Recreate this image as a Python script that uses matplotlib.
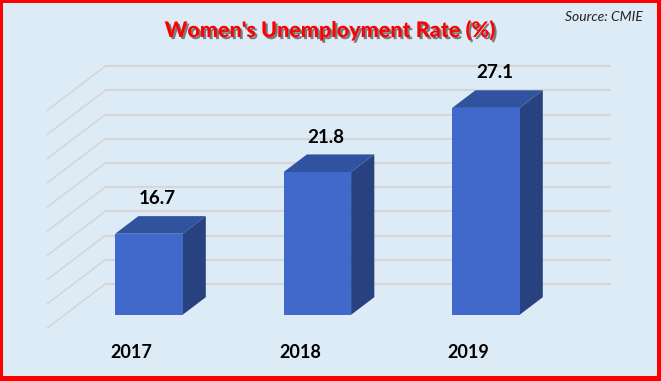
import matplotlib
matplotlib.use('Agg')
import matplotlib.pyplot as plt
import matplotlib.patches as mpatches
import matplotlib.patheffects as pe

# data
years = ['2017', '2018', '2019']
rates = [16.7, 21.8, 27.1]
grid_vals = list(range(10, 30, 2))   # 10 .. 28
ymin = 10

# colours
bg = '#DDEBF7'
c_front = '#4169CC'
c_top = '#2F539E'
c_side = '#27427F'
c_grid = '#D6D6D6'

# oblique depth (full depth of the chart floor, in data units)
DX = 58 / 168.5
DY = 44 / 12.1
d0, d1 = 0.3, 0.7      # bar sits between these depth fractions
bw = 0.4               # bar width in category units

fig = plt.figure(figsize=(6.61, 3.81), dpi=100, facecolor='red')
fig.patches.append(mpatches.Rectangle((3 / 661, 5 / 381), 654 / 661, 373 / 381,
                                      transform=fig.transFigure, facecolor=bg,
                                      edgecolor='none', zorder=-1))

ax = fig.add_axes([0, 0, 1, 1])
ax.set_facecolor('none')
ax.set_xlim(-131.5 / 168.5, (661 - 131.5) / 168.5)
ax.set_ylim(ymin - 53 / 12.1, ymin + 328 / 12.1)
ax.axis('off')

x_left, x_right = -0.5, len(years) - 0.5

# gridlines: back wall and left side wall
for v in grid_vals:
    ax.plot([x_left + DX, x_right + DX], [v + DY, v + DY], color=c_grid, lw=1.6, zorder=1,
            solid_capstyle='butt')
    ax.plot([x_left, x_left + DX], [v, v + DY], color='#D8D2CC', lw=1.0, zorder=1)

# 3D bars
for i, val in enumerate(rates):
    xl = i - bw / 2
    xr = i + bw / 2
    front = [(xl + d0 * DX, ymin + d0 * DY), (xr + d0 * DX, ymin + d0 * DY),
             (xr + d0 * DX, val + d0 * DY), (xl + d0 * DX, val + d0 * DY)]
    top = [(xl + d0 * DX, val + d0 * DY), (xr + d0 * DX, val + d0 * DY),
           (xr + d1 * DX, val + d1 * DY), (xl + d1 * DX, val + d1 * DY)]
    side = [(xr + d0 * DX, ymin + d0 * DY), (xr + d1 * DX, ymin + d1 * DY),
            (xr + d1 * DX, val + d1 * DY), (xr + d0 * DX, val + d0 * DY)]
    ax.add_patch(mpatches.Polygon(side, closed=True, facecolor=c_side, edgecolor='none', zorder=3))
    ax.add_patch(mpatches.Polygon(top, closed=True, facecolor=c_top, edgecolor='none', zorder=3))
    ax.add_patch(mpatches.Polygon(front, closed=True, facecolor=c_front, edgecolor='none', zorder=3))

    # value label
    ax.annotate(f'{val:.1f}', xy=(i + 0.45 * DX, val + d1 * DY), xytext=(0, 12.5),
                textcoords='offset points', ha='center', va='center',
                fontsize=13.5, fontweight='bold', family='Lato', color='black', zorder=5)
    # category label
    ax.annotate(years[i], xy=(i, ymin), xytext=(0, -18), textcoords='offset points',
                ha='center', va='center', fontsize=13, fontweight='bold',
                family='Lato', color='black')

# title with shadow
fig.text(330 / 661, 1 - 30 / 381, "Women's Unemployment Rate (%)", ha='center', va='center',
         fontsize=15.5, fontweight='black', family='Lato', color='#FF0000',
         path_effects=[pe.withSimplePatchShadow(offset=(1.5, -1.5), shadow_rgbFace='#303030',
                                                alpha=0.6)])

fig.text(643 / 661, 1 - 17 / 381, 'Source: CMIE', ha='right', va='center',
         fontsize=10, style='italic', family='Lato', color='#222222')

fig.savefig('out.png', dpi=100, facecolor='red')
